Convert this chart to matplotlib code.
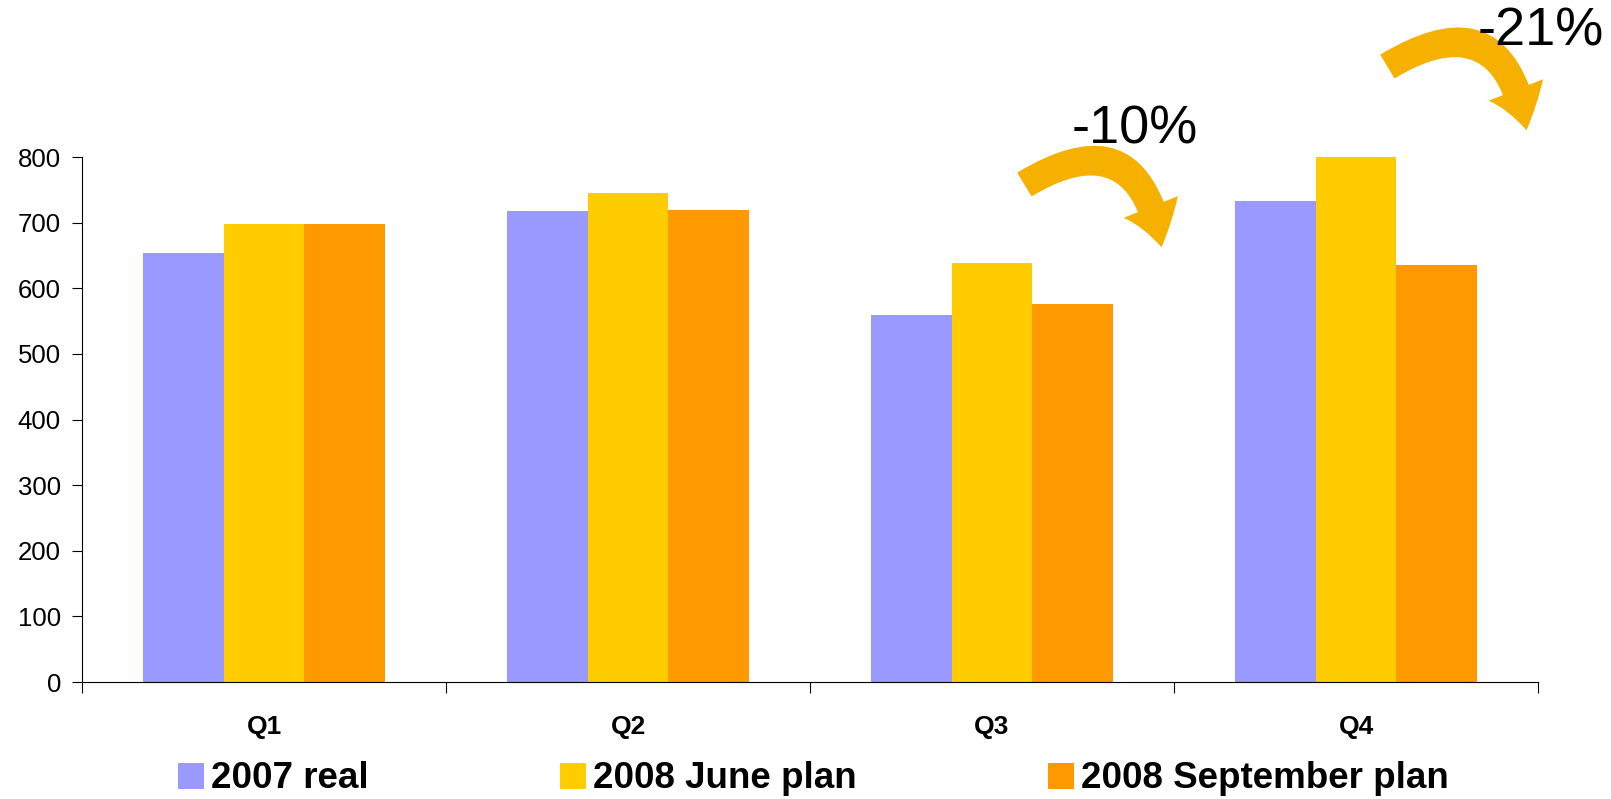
import numpy as np
import matplotlib.pyplot as plt
from matplotlib.patches import FancyArrowPatch, Patch

plt.rcParams['font.family'] = ['Liberation Sans', 'DejaVu Sans']

quarters = ['Q1', 'Q2', 'Q3', 'Q4']
series = ['2007 real', '2008 June plan', '2008 September plan']
real_2007 = [654, 717, 559, 733]
june_2008 = [698, 745, 639, 800]
sept_2008 = [698, 720, 576, 636]
colors = ['#9999FF', '#FFCC00', '#FF9900']
changes = ['-10%', '-21%']

fig = plt.figure(figsize=(16.11, 7.99), dpi=100)
ax = fig.add_axes([0.0509, 0.1464, 0.9038, 0.6571])

x = np.arange(len(quarters))
w = 0.222
for i, (vals, c) in enumerate(zip([real_2007, june_2008, sept_2008], colors)):
    ax.bar(x + (i - 1) * w, vals, width=w, color=c, edgecolor='none', zorder=2)

ax.set_xlim(-0.5, 3.5)
ax.set_ylim(0, 800)
ax.set_yticks(range(0, 801, 100))
ax.tick_params(axis='y', labelsize=18.5, length=7.2, width=0.8, pad=8)
ax.set_xticks(np.arange(-0.5, 3.6, 1))
ax.set_xticklabels([])
ax.set_xticks(x, minor=True)
ax.set_xticklabels(quarters, minor=True, fontweight='bold', fontsize=19)
ax.tick_params(axis='x', which='major', length=8, width=0.8, direction='out')
ax.tick_params(axis='x', which='minor', length=0, pad=24)
for s in ['top', 'right']:
    ax.spines[s].set_visible(False)
for s in ['left', 'bottom']:
    ax.spines[s].set_linewidth(0.8)

# curved arrows with percentage changes
arrow_col = '#F5B000'
arrows = [((1022 / 1611, 1 - 186 / 799), (1162 / 1611, 1 - 250 / 799)),
          ((1385 / 1611, 1 - 68 / 799), (1527 / 1611, 1 - 133 / 799))]
for (p0, p1) in arrows:
    a = FancyArrowPatch(p0, p1, transform=fig.transFigure,
                        connectionstyle='arc3,rad=-0.75',
                        arrowstyle='simple,head_length=30,head_width=42,tail_width=20',
                        color=arrow_col, lw=0, mutation_scale=1)
    fig.add_artist(a)
fig.text(1135 / 1611, 1 - 130 / 799, changes[0], fontsize=39, ha='center', va='center')
fig.text(1541 / 1611, 1 - 31 / 799, changes[1], fontsize=39, ha='center', va='center')

handles = [Patch(facecolor=c, edgecolor='none') for c in colors]
fig.legend(handles, series, loc='center', bbox_to_anchor=(0.505, 1 - 779 / 799),
           ncol=3, frameon=False, prop={'weight': 'bold', 'size': 26.5},
           handlelength=0.7, handleheight=0.7, handletextpad=0.2,
           columnspacing=5.2, borderpad=0, borderaxespad=0)

fig.savefig('out.png', dpi=100)
